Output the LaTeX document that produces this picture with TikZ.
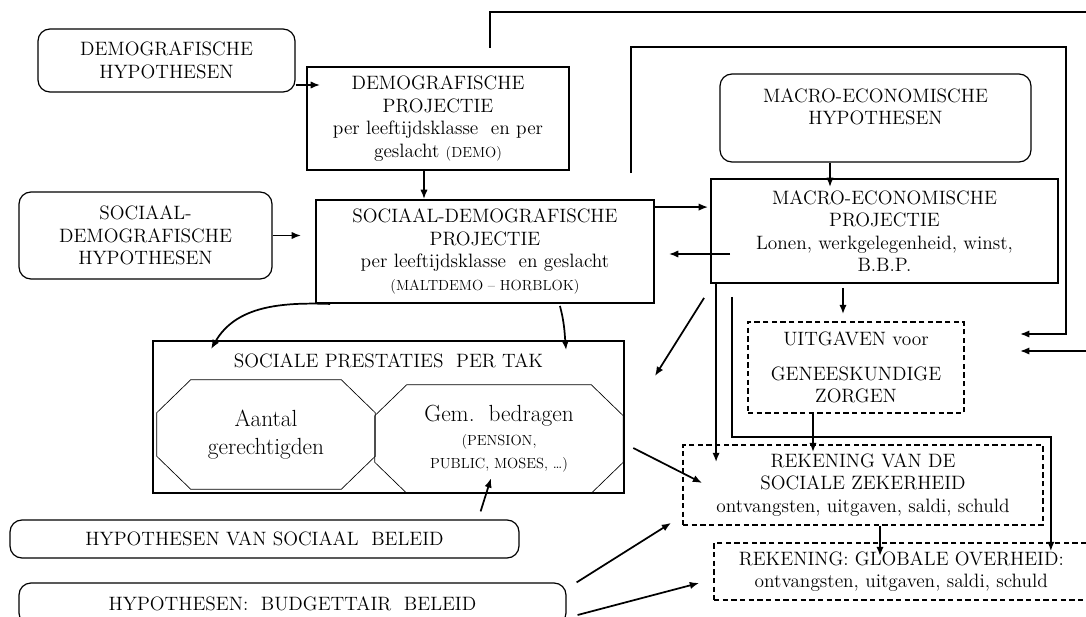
\documentclass[tikz,border=0pt]{standalone}
\usetikzlibrary{arrows.meta,calc,positioning}

\newcommand{\normaltxt}{\fontsize{14.5}{16.8}\selectfont}
\newcommand{\kleintxt}{\fontsize{11}{13}\selectfont}
\newcommand{\groottxt}{\fontsize{17.5}{21}\selectfont}

\tikzset{
  hyp/.style={draw, rounded corners=9pt, line width=0.9pt, align=center, font=\normaltxt, inner sep=0pt},
  blok/.style={draw, line width=1.4pt, align=center, font=\normaltxt, inner sep=0pt},
  rekening/.style={draw, line width=1.3pt, dash pattern=on 4pt off 2.5pt, align=center, font=\normaltxt, inner sep=0pt},
  octo/.style={align=center, font=\groottxt, inner sep=0pt},
  pijl/.style={line width=1.3pt, ->},
}

\begin{document}
\begin{tikzpicture}[x=0.75pt, y=-0.75pt, >={Latex[length=7pt,width=5.5pt]}]
\useasboundingbox (0,0) rectangle (1086,617);

%hypothesen
\node[hyp, minimum width=192.75pt, minimum height=47.25pt] (demoHyp) at (166.5,60.5) {DEMOGRAFISCHE\\HYPOTHESEN};
\node[hyp, minimum width=189.75pt, minimum height=65.25pt] (socHyp) at (145.5,235.5) {SOCIAAL-\\DEMOGRAFISCHE\\HYPOTHESEN};
\node[hyp, minimum width=233.25pt, minimum height=66pt] (macroHyp) at (875.5,118) {MACRO-ECONOMISCHE\\HYPOTHESEN\\~};
\node[hyp, minimum width=381.75pt, minimum height=28.5pt] (socBel) at (264.5,539) {HYPOTHESEN VAN SOCIAAL\ \ BELEID};
\node[hyp, minimum width=410.25pt, minimum height=31.5pt] (budget) at (292.5,604) {HYPOTHESEN:\ \ BUDGETTAIR\ \ BELEID};

%projecties
\node[blok, minimum width=196.5pt, minimum height=77.25pt] (demoProj) at (438,118.5)
  {DEMOGRAFISCHE\\PROJECTIE\\per leeftijdsklasse\ \ en per\\geslacht {\kleintxt(DEMO)}};
\node[blok, minimum width=253.5pt, minimum height=77.25pt] (socProj) at (485,251.5)
  {SOCIAAL-DEMOGRAFISCHE\\PROJECTIE\\per leeftijdsklasse\ \ en geslacht\\{\kleintxt(MALTDEMO -- HORBLOK)}};
\node[blok, minimum width=260.25pt, minimum height=78pt] (macroProj) at (884.5,231)
  {MACRO-ECONOMISCHE\\PROJECTIE\\Lonen, werkgelegenheid,\ winst,\\B.B.P.};

%prestaties
\node[blok, minimum width=353.25pt, minimum height=114pt] (prest) at (388.5,417) {};
\node (prestTitel) at ($(prest.north)+(0,21)$) {\normaltxt SOCIALE PRESTATIES\ \ PER TAK};
\node[octo, minimum width=163.5pt, minimum height=81.75pt] (aantal) at (266,434.5) {Aantal\\gerechtigden};
\node[octo, minimum width=186pt, minimum height=81pt] (gem) at (499,439)
  {Gem.\ \ bedragen\\[-3pt]{\kleintxt (PENSION,}\\[-4pt]{\kleintxt PUBLIC, MOSES, \dots)}};
\foreach \n/\cx/\cy in {aantal/34/33, gem/32/31}
  \draw[line width=0.5pt] ($(\n.north west)+(\cx,0)$) -- ($(\n.north east)+(-\cx,0)$) -- ($(\n.north east)+(0,\cy)$)
    -- ($(\n.south east)+(0,-\cy)$) -- ($(\n.south east)+(-\cx,0)$) -- ($(\n.south west)+(\cx,0)$)
    -- ($(\n.south west)+(0,-\cy)$) -- ($(\n.north west)+(0,\cy)$) -- cycle;

%rekeningen
\node[rekening, minimum width=162pt, minimum height=68.25pt] (uitg) at (856,367.5) {UITGAVEN voor\\[9pt]GENEESKUNDIGE\\ZORGEN};
\node[rekening, minimum width=270pt, minimum height=60pt] (rekSZ) at (863,485)
  {REKENING VAN DE\\SOCIALE ZEKERHEID\\ontvangsten, uitgaven, saldi, schuld};
\node[rekening, minimum width=297pt, minimum height=42.75pt] (rekGO) at (912,571.5)
  {REKENING: GLOBALE OVERHEID:\hspace*{16pt}\\ontvangsten, uitgaven, saldi, schuld\hspace*{16pt}};

%pijlen boven
\draw[pijl] ($(demoHyp.east)+(0,24.5)$) coordinate (a1) -- ($(demoProj.west |- a1)+(14,0)$);
\draw[pijl] ($(demoProj.south)+(-14,0)$) coordinate (a2) -- (a2 |- socProj.north);
\draw[pijl] (socHyp.east) -- ($(socProj.west |- socHyp.east)+(-14,0)$);
\draw[pijl] ($(socProj.north east)+(0,8)$) coordinate (a4) -- ($(macroProj.west |- a4)+(-2,0)$);
\draw[pijl] ($(macroProj.west)+(20,23)$) coordinate (a5) -- ($(socProj.east |- a5)+(14,0)$);
\draw[pijl] ($(macroHyp.south)+(-45.5,0)$) coordinate (a6) -- ($(a6 |- macroProj.north)+(0,9)$);

%lussen
\coordinate (lusA) at (490,48);
\coordinate (hoekA) at (1100,12);
\coordinate (eindA) at (1020,351);
\draw[pijl] (lusA) |- (hoekA) |- (eindA);
\coordinate (lusB) at (631,173);
\coordinate (hoekB) at (1066,47);
\coordinate (eindB) at (1020,334);
\draw[pijl] (lusB) |- (hoekB) |- (eindB);

%naar prestaties
\draw[pijl] ($(socProj.south west)+(15,0)$) to[out=178,in=60] ($(prest.north west)+(59,9)$);
\draw[pijl] ($(socProj.south east)+(-95,2)$) to[out=-75,in=95] ($(prest.north west)+(414,10)$);
\draw[pijl] ($(macroProj.south west)+(-6,14)$) -- ($(prest.north east)+(30,36)$);
\draw[pijl] ($(socBel.north east)+(-39,-8)$) -- ($(gem.south)+(-8,-15)$);

%naar rekeningen
\draw[pijl] ($(macroProj.south west)+(6,0)$) coordinate (r1) -- ($(r1 |- rekSZ.north)+(0,18)$);
\draw[pijl] ($(macroProj.south west)+(22,13)$) |- ($(rekSZ.north east)+(7,-7)$) coordinate (r2) -- ($(r2 |- rekGO.north)+(0,9)$);
\draw[pijl] ($(macroProj.south)+(-41.5,4)$) coordinate (r3) -- ($(r3 |- uitg.north)+(0,-7)$);
\draw[pijl] ($(uitg.south)+(-43,0)$) coordinate (r4) -- ($(r4 |- rekSZ.north)+(0,8)$);
\draw[pijl] ($(rekSZ.south)+(17,0)$) coordinate (r5) -- ($(r5 |- rekGO.north)+(0,14)$);
\draw[pijl] ($(gem.east)+(10,9)$) -- ($(rekSZ.west)+(20,-2)$);
\draw[pijl] ($(budget.north east)+(10,0)$) -- ($(rekSZ.south west)+(-11,-3)$);
\draw[pijl] ($(budget.east)+(11,11)$) -- ($(rekGO.west)+(-14,11.5)$);
\end{tikzpicture}
\end{document}
